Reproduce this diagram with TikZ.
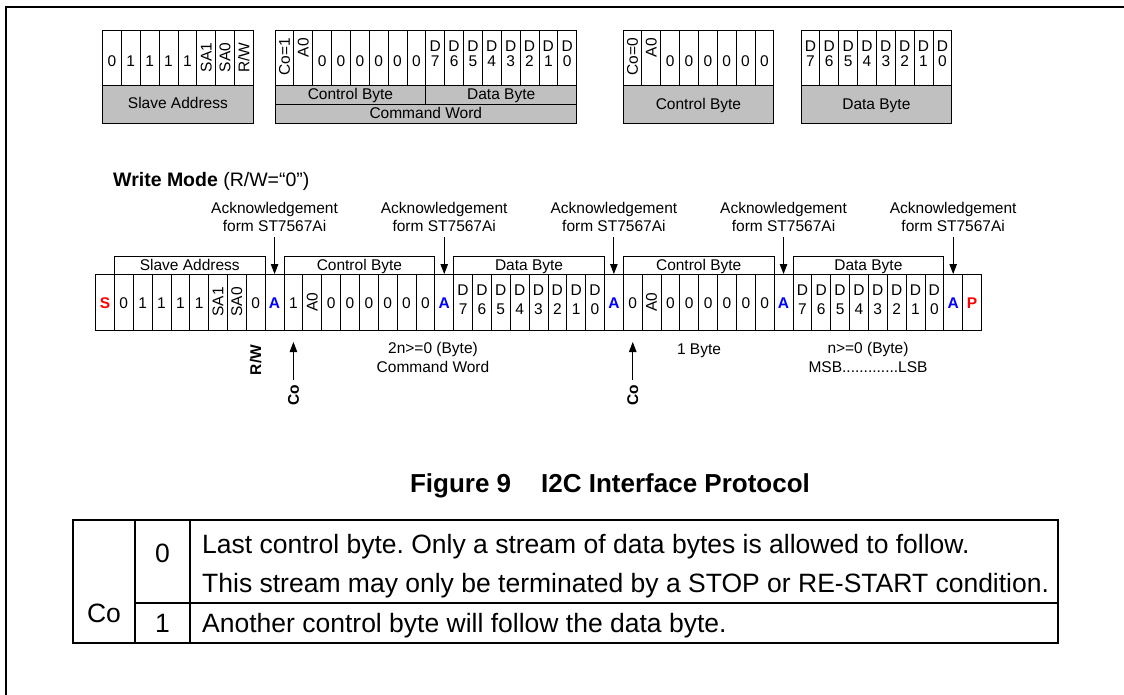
\documentclass[tikz,border=0pt]{standalone}
\usepackage{fontspec}
\setmainfont{Liberation Sans}
\usetikzlibrary{arrows.meta}
\frenchspacing
\definecolor{cellgray}{RGB}{192,192,192}
\definecolor{bitred}{RGB}{255,0,0}
\definecolor{bitblue}{RGB}{0,0,255}
\newcommand{\myfs}[2]{\fontsize{#1}{#2}\selectfont}
\def\cw{18.85}
\def\cellbase{67}\def\celldtop{12}\def\cellskip{13}
% cell content: #1 x centre, #2 cell top, #3 cell height, #4 text, #5 name
\newcommand{\cellTn}[5]{\node[txt, anchor=base] (#5) at (#1,\cellbase) {#4};}
\newcommand{\cellTr}[5]{\node[txt, rotate=90] (#5) at (#1,{#2+#3/2}) {#4};}
\newcommand{\cellTt}[5]{\node[txt, rotate=90, anchor=east] (#5) at (#1,{#2+8}) {#4};}
\newcommand{\cellTd}[5]{\node[txt, align=center, anchor=north, font=\myfs{15.5}{\cellskip}] (#5) at (#1,{#2+\celldtop}) {D\\#4};}
\newcommand{\cellTS}[5]{\node[txt, anchor=base, font=\bfseries\myfs{15.5}{17}, text=bitred] (#5) at (#1,\cellbase) {#4};}
\newcommand{\cellTA}[5]{\node[txt, anchor=base, font=\bfseries\myfs{15.5}{17}, text=bitblue] (#5) at (#1,\cellbase) {#4};}
\newcommand{\cellTP}[5]{\node[txt, anchor=base, font=\bfseries\myfs{15.5}{17}, text=bitred] (#5) at (#1,\cellbase) {#4};}
\newcommand{\bitrow}[5]{%
  \foreach \ty/\tx [count=\i from 0] in {#5}{%
    \draw[cellline] ({#2+\i*\cw},#3) rectangle ++(\cw,#4);
    \csname cellT\ty\endcsname{{#2+\i*\cw+\cw/2}}{#3}{#4}{\tx}{#1\i}
  }%
}
\begin{document}
\begin{tikzpicture}[x=1pt,y=-1pt,
  txt/.style={inner sep=0pt, font=\myfs{15.5}{17}},
  cellline/.style={line width=0.8pt},
  grayfill/.style={cellline, fill=cellgray},
  framel/.style={line width=2pt},
  tabl/.style={line width=1.6pt},
  arr/.style={line width=0.8pt, -{Triangle[length=10pt,width=7.5pt]}},
  tabtxt/.style={inner sep=0pt, font=\myfs{26.5}{28}, anchor=base west},
  boldlbl/.style={inner sep=0pt, font=\bfseries\myfs{15.5}{17}},
]
\useasboundingbox (0,0) rectangle (1124,695);
\fill[white] (0,0) rectangle (1124,695);
\draw[framel] (6,695) -- (6,7) -- (1124,7);

% ---- top format boxes
\def\cellbase{67}\def\celldtop{11}\def\cellskip{14.5}
\bitrow{sa}{102.5}{30}{55}{n/0,n/1,n/1,n/1,n/1,r/SA1,r/SA0,r/{R/W}}
\draw[grayfill] (102.5,85) rectangle ({102.5+8*\cw},123);
\node[txt, anchor=base] (saL) at ({102.5+4*\cw},109) {Slave Address};

\bitrow{cw}{275}{30}{55}{t/{Co=1},t/A0,n/0,n/0,n/0,n/0,n/0,n/0,d/7,d/6,d/5,d/4,d/3,d/2,d/1,d/0}
\draw[grayfill] (275,85) rectangle ({275+16*\cw},123);
\draw[cellline] (275,104) -- ({275+16*\cw},104);
\draw[cellline] ({275+8*\cw},85) -- ({275+8*\cw},104);
\node[txt, anchor=base] (cwC) at ({275+4*\cw},100) {Control Byte};
\node[txt, anchor=base] (cwD) at ({275+12*\cw},100) {Data Byte};
\node[txt, anchor=base] (cwW) at ({275+8*\cw},119) {Command Word};

\bitrow{cb}{623}{30}{55}{t/{Co=0},t/A0,n/0,n/0,n/0,n/0,n/0,n/0}
\draw[grayfill] (623,85) rectangle ({623+8*\cw},123);
\node[txt, anchor=base] (cbL) at ({623+4*\cw},110) {Control Byte};

\bitrow{db}{801}{30}{55}{d/7,d/6,d/5,d/4,d/3,d/2,d/1,d/0}
\draw[grayfill] (801,85) rectangle ({801+8*\cw},123);
\node[txt, anchor=base] (dbL) at ({801+4*\cw},110) {Data Byte};

% ---- write mode title
\node[inner sep=0pt, anchor=base west, font=\myfs{19.5}{21}] (wm) at (113,187) {\textbf{Write Mode} (R/W=“0”)};

% ---- stream
\def\cellbase{308}\def\celldtop{11}\def\cellskip{18.5}
\bitrow{st}{95.5}{274}{56}{S/S,n/0,n/1,n/1,n/1,n/1,r/SA1,r/SA0,n/0,A/A,n/1,r/A0,n/0,n/0,n/0,n/0,n/0,n/0,A/A,d/7,d/6,d/5,d/4,d/3,d/2,d/1,d/0,A/A,n/0,r/A0,n/0,n/0,n/0,n/0,n/0,n/0,A/A,d/7,d/6,d/5,d/4,d/3,d/2,d/1,d/0,A/A,P/P}

\foreach \a/\b/\t [count=\k] in {1/8/Slave Address,10/17/Control Byte,19/26/Data Byte,28/35/Control Byte,37/44/Data Byte}{
  \draw[cellline] ({95.5+\a*\cw},274) -- ({95.5+\a*\cw},256) -- ({95.5+(\b+1)*\cw},256) -- ({95.5+(\b+1)*\cw},274);
  \node[txt, anchor=base] (br\k) at ({95.5+(\a+\b+1)*\cw/2},270) {\t};
}

\foreach \j [count=\k] in {9,18,27,36,45}{
  \coordinate (tip\k) at ({95.5+(\j+0.5)*\cw},274);
  \node[txt, anchor=south, align=center, font=\myfs{15.5}{18}] (ack\k) at ({95.5+(\j+0.5)*\cw},232) {Acknowledgement\\form ST7567Ai};
  \draw[arr, shorten <=5pt] (ack\k.south) -- (tip\k);
}

% ---- below stream
\node[boldlbl, rotate=90] (rw) at ({95.5+8.5*\cw},360) {R/W};
\foreach \j [count=\k] in {10,28}{
  \coordinate (cotip\k) at ({95.5+(\j+0.5)*\cw},342);
  \node[boldlbl, rotate=90] (co\k) at ({95.5+(\j+0.5)*\cw},395) {Co};
  \draw[arr, shorten <=4pt] (co\k.east) -- (cotip\k);
}
\node[txt, anchor=north, align=center, font=\myfs{15.5}{19}] (cmdw) at (433,342) {2n>=0 (Byte)\\Command Word};
\node[txt, anchor=base] (oneb) at (699,354) {1 Byte};
\node[txt, anchor=north, align=center, font=\myfs{15.5}{19}] (nby) at (868,342) {n>=0 (Byte)\\MSB.............LSB};

% ---- caption
\node[inner sep=0pt, anchor=base, font=\bfseries\myfs{26}{28}] (cap) at (610,492) {Figure 9\hspace{30pt}I2C Interface Protocol};

% ---- table
\draw[tabl] (73,520) rectangle (1058,643);
\draw[tabl] (135,520) -- (135,643);
\draw[tabl] (190,520) -- (190,643);
\draw[tabl] (135,603) -- (1058,603);
\node[tabtxt, anchor=base] (tco) at (104,622) {Co};
\node[tabtxt, anchor=base] (t0) at (162.5,562) {0};
\node[tabtxt, anchor=base] (t1) at (162.5,632) {1};
\node[tabtxt] (l1) at (202,553) {Last control byte. Only a stream of data bytes is allowed to follow.};
\node[tabtxt] (l2) at (202,592) {This stream may only be terminated by a STOP or RE-START condition.};
\node[tabtxt] (l3) at (202,632) {Another control byte will follow the data byte.};
\end{tikzpicture}
\end{document}
